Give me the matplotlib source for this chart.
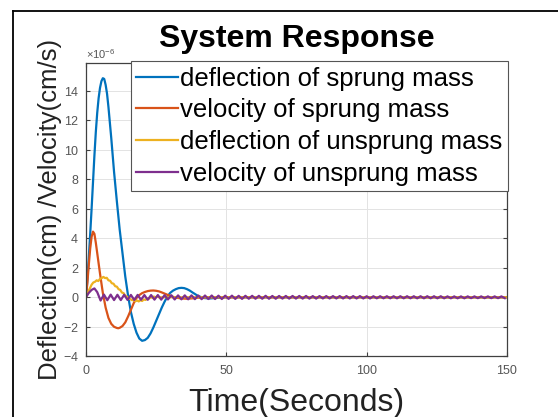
import numpy as np
import matplotlib
matplotlib.use('Agg')
import matplotlib.pyplot as plt
from matplotlib.lines import Line2D
from matplotlib.ticker import ScalarFormatter

plt.rcParams['font.family'] = ['Liberation Sans', 'DejaVu Sans']
plt.rcParams['mathtext.fontset'] = 'custom'
plt.rcParams['mathtext.rm'] = 'Liberation Sans'
plt.rcParams['mathtext.it'] = 'Liberation Sans:italic'

# response values, in units of 1e-6
t_sprung_defl = [0, 0.5, 1, 1.5, 2, 2.5, 3, 3.5, 4, 4.5, 5, 5.5, 6, 6.5, 7, 7.5,
                 8, 9, 10, 11, 12, 13, 14, 15, 16, 17, 18, 19, 20, 21, 22, 23,
                 24, 25, 26, 27, 28, 29, 30, 31, 32, 33, 34, 35, 36, 37, 38, 39,
                 40, 42, 44, 46, 50, 150]
sprung_defl = [0, 1.2, 2.7, 4.3, 6.0, 7.8, 9.6, 11.2, 12.5, 13.5, 14.2, 14.65, 14.85, 14.8, 14.4, 13.8,
               12.9, 10.8, 8.5, 6.5, 4.6, 3.0, 1.4, 0.1, -1.0, -1.8, -2.4, -2.8, -2.95, -2.9, -2.75, -2.45,
               -2.05, -1.6, -1.15, -0.7, -0.3, 0.05, 0.3, 0.45, 0.55, 0.62, 0.64, 0.62, 0.55, 0.45, 0.32, 0.2,
               0.08, -0.05, -0.08, -0.05, 0, 0]

t_sprung_vel = [0, 0.5, 1, 1.5, 2, 2.5, 3, 3.5, 4, 5, 6, 7, 8, 9, 10, 11, 11.5,
                12, 13, 14, 15, 16, 17, 18, 19, 20, 21, 22, 23, 24, 25, 26, 27,
                28, 29, 30, 31, 32, 34, 36, 38, 40, 44, 150]
sprung_vel = [0, 1.0, 2.2, 3.3, 4.1, 4.45, 4.3, 3.7, 3.0, 1.6, 0.3, -0.7, -1.4, -1.8, -2.0, -2.08, -2.1,
              -2.07, -1.95, -1.7, -1.3, -0.85, -0.4, -0.05, 0.15, 0.28, 0.36, 0.42, 0.45, 0.46, 0.44, 0.4, 0.33,
              0.25, 0.17, 0.1, 0.03, -0.02, -0.08, -0.1, -0.07, -0.03, 0, 0]

t_unsprung_defl = [0, 1, 2, 2.6, 3.2, 3.8, 4.4, 5.0, 5.6, 6.2, 6.8, 7.4, 8.0, 8.6, 9.2,
                   9.8, 10.4, 11.0, 11.6, 12.2, 12.8, 13.4, 14.0, 14.6, 15.2, 15.8, 16.4,
                   17.0, 17.6, 18.2, 18.8, 19.4, 20.0, 20.6, 21.2, 21.8, 22.4, 23.0, 23.6,
                   24.2, 24.8, 25.4, 26, 150]
unsprung_defl = [0, 0.45, 0.85, 1.0, 1.05, 1.15, 1.1, 1.25, 1.3, 1.38, 1.3, 1.32, 1.15, 1.12, 0.95,
                 0.92, 0.75, 0.72, 0.55, 0.5, 0.32, 0.28, 0.1, 0.05, -0.1, -0.12, -0.2,
                 -0.18, -0.27, -0.22, -0.28, -0.2, -0.25, -0.15, -0.18, -0.08, -0.1, 0.0, -0.03,
                 0.05, 0.0, 0.05, 0.0, 0.0]

t_unsprung_vel = [0, 1, 2, 3, 4] + list(np.arange(5.2, 150, 1.2))
unsprung_vel = [0, 0.3, 0.5, 0.6, 0.35,
                -0.22, 0.18, -0.2, 0.18, -0.19, 0.17, -0.19, 0.17, -0.18, 0.16,
                -0.18, 0.16, -0.17, 0.15, -0.17, 0.15, -0.16, 0.15, -0.16, 0.14,
                -0.15, 0.14, -0.15, 0.13, -0.14, 0.13, -0.14, 0.13, -0.13, 0.12,
                -0.13, 0.12, -0.12, 0.12, -0.12, 0.11, -0.12, 0.11, -0.11, 0.11,
                -0.11, 0.1, -0.11, 0.1, -0.1, 0.1, -0.1, 0.1, -0.1, 0.1,
                -0.1, 0.09, -0.1, 0.09, -0.09, 0.09, -0.09, 0.09, -0.09, 0.09,
                -0.09, 0.09, -0.09, 0.08, -0.09, 0.08, -0.08, 0.08, -0.08, 0.08,
                -0.08, 0.08, -0.08, 0.08, -0.08, 0.08, -0.08, 0.08, -0.08, 0.07,
                -0.08, 0.07, -0.07, 0.07, -0.07, 0.07, -0.07, 0.07, -0.07, 0.07,
                -0.07, 0.07, -0.07, 0.07, -0.07, 0.07, -0.07, 0.07, -0.07, 0.07,
                -0.07, 0.07, -0.07, 0.06, -0.07, 0.06, -0.07, 0.06, -0.07, 0.06,
                -0.06, 0.06, -0.06, 0.06, -0.06, 0.06, -0.06, 0.06, -0.06, 0.06,
                -0.06]

labels = ['deflection of sprung mass', 'velocity of sprung mass',
          'deflection of unsprung mass', 'velocity of unsprung mass']
colors = ['#0072BD', '#D95319', '#EDB120', '#7E2F8E']

scale = 1e-6
series = [(t_sprung_defl, sprung_defl), (t_sprung_vel, sprung_vel),
          (t_unsprung_defl, unsprung_defl), (t_unsprung_vel, unsprung_vel)]

fig = plt.figure(figsize=(5.58, 4.17), dpi=100)
ax = fig.add_axes([0.1541, 0.1456, 0.7545, 0.704])

for (t, v), c, lab in zip(series, colors, labels):
    ax.plot(t, np.array(v) * scale, color=c, lw=1.6, label=lab)

ax.set_xlim(0, 150)
ax.set_ylim(-4e-6, 15.9e-6)
ax.set_xticks([0, 50, 100, 150])
ax.set_yticks(np.arange(-4, 15, 2) * scale)

# fixed 1e-6 exponent on the y axis
fmt = ScalarFormatter(useMathText=True)
fmt.set_powerlimits((-6, -6))
ax.yaxis.set_major_formatter(fmt)
ax.yaxis.get_offset_text().set_fontsize(8)
ax.yaxis.get_offset_text().set_color('#555555')

ax.grid(True, color='#e3e3e3', lw=0.7)
ax.set_axisbelow(True)
ax.tick_params(direction='in', length=3, width=0.8, colors='#404040',
               labelsize=9, labelcolor='#555555', top=True, right=True)
ax.tick_params(axis='x', pad=6)
ax.tick_params(axis='y', pad=5)
for s in ax.spines.values():
    s.set_color('#404040')
    s.set_linewidth(0.9)

ax.set_title('System Response', fontsize=23, fontweight='bold', pad=11.5)
ax.set_xlabel('Time(Seconds)', fontsize=23, color='#222222')
ax.set_ylabel('Deflection(cm) /Velocity(cm/s)', fontsize=18.5, color='#222222')
ax.xaxis.set_label_coords(0.5, -0.108)
ax.yaxis.set_label_coords(-0.058, 0.5)

leg = ax.legend(loc='upper right', bbox_to_anchor=(508 / 558, (417 - 61) / 417),
                bbox_transform=fig.transFigure, fontsize=18.5, handlelength=1.6,
                handletextpad=0.1, labelspacing=0.3, borderpad=0.22,
                borderaxespad=0, fancybox=False, framealpha=1)
leg.get_frame().set_edgecolor('#555555')
leg.get_frame().set_linewidth(0.8)

# outer frame along the left and top edges
fig.add_artist(Line2D([13 / 558, 13 / 558], [0, 1 - 11 / 417], color='black', lw=1.3))
fig.add_artist(Line2D([13 / 558, 1], [1 - 11 / 417, 1 - 11 / 417], color='black', lw=1.3))

fig.savefig('out.png', dpi=100)
